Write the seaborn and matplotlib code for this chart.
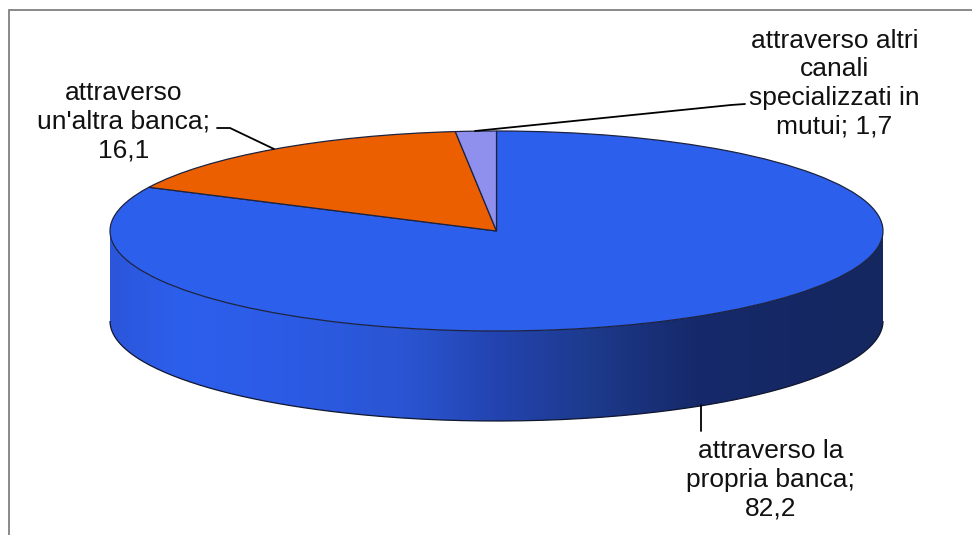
import numpy as np
import matplotlib
matplotlib.use("Agg")
import matplotlib.pyplot as plt
from matplotlib.colors import LinearSegmentedColormap
from matplotlib.patches import Polygon
from matplotlib.transforms import Affine2D
import seaborn as sns

# Survey shares, percent
slice_names = ["attraverso la\npropria banca;\n",
               "attraverso\nun'altra banca;\n",
               "attraverso altri\ncanali\nspecializzati in\nmutui; "]
slice_values = [82.2, 16.1, 1.7]
slice_colors = ["#2D5FED", "#EC5F00", "#8F8FEE"]

# Shading along the rim of the disc, left to right
rim_stops = [(0.00, "#2B56DA"), (0.09, "#2D5FED"), (0.22, "#2C5CE6"),
             (0.38, "#2A55D2"), (0.50, "#2344B0"), (0.62, "#1D3A8C"),
             (0.76, "#16296A"), (1.00, "#14275F")]

W, H = 972, 535
CX, CY, RX, RY, DEPTH = 496.5, 231, 386.5, 100, 90

sns.set_theme(style="white")
plt.rcParams["font.family"] = ["Liberation Sans", "DejaVu Sans"]

fig = plt.figure(figsize=(W / 100, H / 100), dpi=100, facecolor="white")
ax = fig.add_axes([0, 0, 1, 1])
palette = sns.color_palette(slice_colors)

# Top face: a unit pie, flattened into an ellipse by the axes scaling
wedges, _ = ax.pie(slice_values, colors=palette, startangle=90, counterclock=False,
                   radius=1, center=(0, 0),
                   wedgeprops=dict(edgecolor="#1c2340", linewidth=0.9, zorder=5))
ax.set_aspect("auto")
xlim = ((0 - CX) / RX, (W - CX) / RX)
ylim = ((CY - H) / RY, CY / RY)

# Rim of the disc below the top face
thickness = DEPTH / RY
theta = np.radians(np.linspace(180, 360, 241))
xs, ys = np.cos(theta), np.sin(theta)
outline = np.column_stack([np.r_[xs, xs[::-1]], np.r_[ys, ys[::-1] - thickness]])
rim = Polygon(outline, closed=True, facecolor="none", edgecolor="none", transform=ax.transData)
ax.add_patch(rim)
rim_cmap = LinearSegmentedColormap.from_list("rim", rim_stops)
shade = ax.imshow(np.linspace(0, 1, 512)[None, :], cmap=rim_cmap, aspect="auto",
                  extent=(-1, 1, -1 - thickness, 0), zorder=2, interpolation="bilinear")
shade.set_clip_path(rim)
ax.plot(xs, ys - thickness, color="#10162e", lw=0.9, zorder=3, solid_capstyle="butt")

ax.set_xlim(xlim)
ax.set_ylim(ylim)
ax.set_axis_off()

# Pixel-based transform for the frame, leader lines and labels
px = Affine2D().scale(1 / W, -1 / H).translate(0, 1) + fig.transFigure

ax.plot([9, 9, W], [H, 10, 10], transform=px, color="#808080", lw=1.3, zorder=6,
        clip_on=False, solid_joinstyle="miter")

leaders = [([701, 701], [405, 431]),
           ([217, 230, 274], [128, 128, 149]),
           ([475, 731, 745], [131, 105, 104])]
for lx, ly in leaders:
    ax.plot(lx, ly, transform=px, color="black", lw=1.3, zorder=7)

label_centers = [(770.5, 480), (123.5, 121.5), (834.5, 83.5)]
for name, value, (lx, ly) in zip(slice_names, slice_values, label_centers):
    text = name + f"{value:.1f}".replace(".", ",")
    ax.text(lx, ly, text, transform=px, ha="center", va="center", ma="center",
            fontsize=19.0, color="#111111", linespacing=1.24, zorder=8)

fig.savefig("out.png", dpi=100, facecolor="white")
